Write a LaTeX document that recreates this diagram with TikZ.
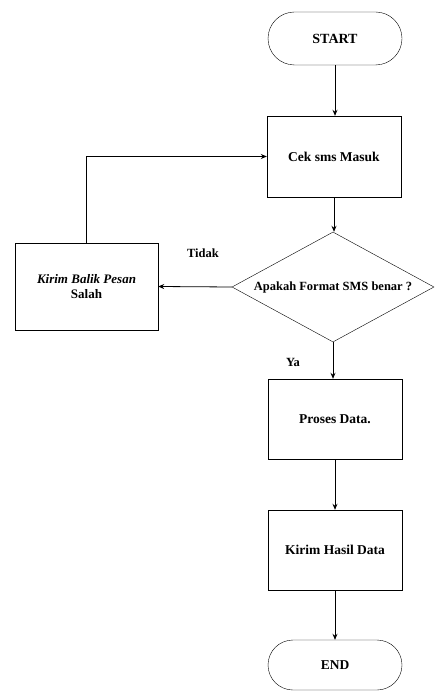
\documentclass[tikz,border=0pt]{standalone}
\usepackage{fontspec}
\setmainfont{Liberation Serif}
\usetikzlibrary{shapes.geometric,shapes.misc,arrows.meta}
\begin{document}
\begin{tikzpicture}[x=1pt,y=-1pt,
  every node/.style={font=\fontsize{13.5}{15}\selectfont\bfseries},
  term/.style={draw,rounded rectangle,minimum width=134pt,minimum height=53pt,inner sep=0pt},
  proc/.style={draw,rectangle,minimum width=134pt,minimum height=80pt,inner sep=0pt,align=center},
  decis/.style={draw,diamond,aspect=1.84,minimum width=202pt,minimum height=110pt,inner sep=0pt},
  lbl/.style={inner sep=0pt,font=\fontsize{12.5}{15}\selectfont\bfseries},
  conn/.style={draw,line width=0.8pt,-{Stealth[length=6pt,width=5pt]}}
]
\useasboundingbox (0,0) rectangle (434,692);
\node[term,font=\fontsize{14}{16}\selectfont\bfseries] (start) at (335,38.5) {START};
\node[proc,minimum height=81pt] (cek) at (334,156.5) {Cek sms Masuk};
\node[decis,font=\fontsize{12.5}{15}\selectfont\bfseries] (dec) at (333,287) {Apakah Format SMS benar ?};
\node[proc,minimum width=143pt,minimum height=87pt,font=\fontsize{13}{15}\selectfont\bfseries] (salah) at (86.5,286.5) {\itshape Kirim Balik Pesan\\ Salah};
\node[proc] (proses) at (335,419) {Proses Data.};
\node[proc] (hasil) at (335,550) {Kirim Hasil Data};
\node[term,minimum height=50pt] (end) at (335,665) {END};
\node[lbl] (tidak) at (203,253) {Tidak};
\node[lbl] (ya) at (293,362) {Ya};
\draw[conn] (start.south) -- (start.south |- cek.north);
\draw[conn] (cek.south) -- (cek.south |- dec.north);
\draw[conn] (dec.west) -- (salah.east);
\draw[conn] (salah.north) |- (cek.west);
\draw[conn] (dec.south) -- (dec.south |- proses.north);
\draw[conn] (proses.south) -- (proses.south |- hasil.north);
\draw[conn] (hasil.south) -- (hasil.south |- end.north);
\end{tikzpicture}
\end{document}
